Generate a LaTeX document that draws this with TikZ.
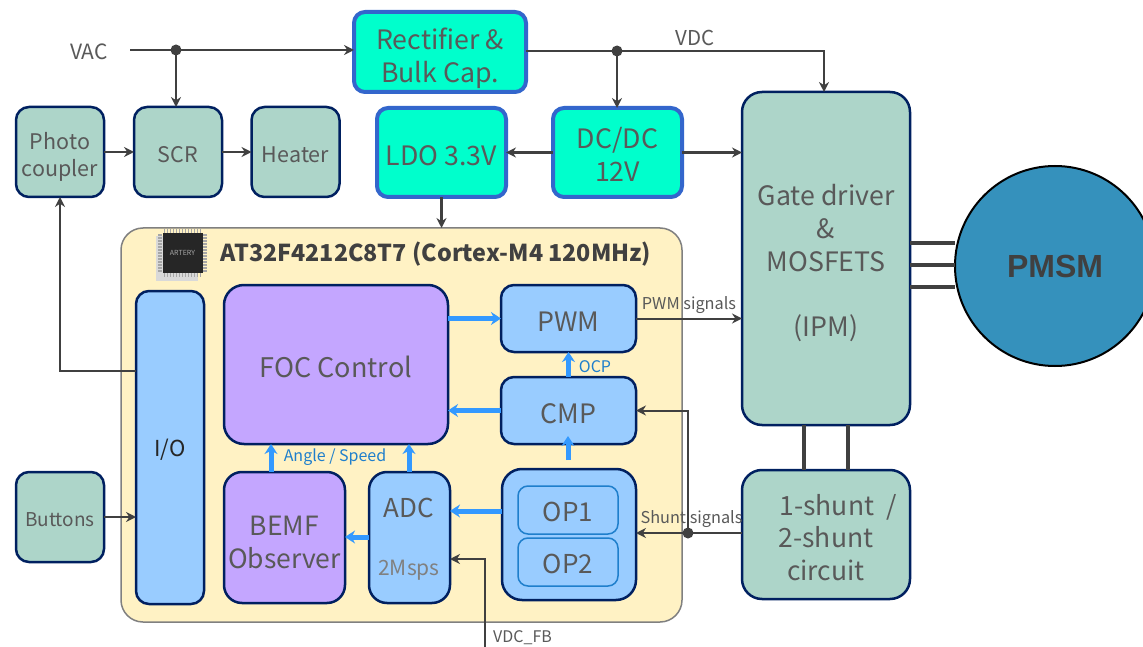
\documentclass[tikz,border=0pt]{standalone}
\usepackage{fontspec}
\setmainfont{Noto Sans CJK SC}
\newfontfamily\motorfont{Liberation Sans}
\usetikzlibrary{arrows.meta}

\definecolor{txtgray}{HTML}{595959}
\definecolor{linegray}{HTML}{404040}
\definecolor{navyline}{HTML}{002060}
\definecolor{powerblue}{HTML}{3366CC}
\definecolor{powerfill}{HTML}{00FFCC}
\definecolor{periphfill}{HTML}{ADD5C9}
\definecolor{mcufill}{HTML}{FFF2C4}
\definecolor{ipfill}{HTML}{99CCFF}
\definecolor{focfill}{HTML}{C4A6FF}
\definecolor{flowblue}{HTML}{3399FF}
\definecolor{labelblue}{HTML}{1F7FCC}
\definecolor{motorfill}{HTML}{3591BC}

\newcommand{\fs}[1]{\fontsize{#1}{\dimexpr#1pt*123/100\relax}\selectfont}

\tikzset{
  block/.style={draw=navyline, line width=2.5pt, rounded corners=13pt, inner sep=0pt,
    outer sep=0pt, text=txtgray, align=center},
  periph/.style={block, fill=periphfill},
  power/.style={block, draw=powerblue, line width=4pt, fill=powerfill, rounded corners=11pt},
  ipblock/.style={block, fill=ipfill},
  algo/.style={block, fill=focfill},
  opamp/.style={block, draw=labelblue, line width=1.5pt, fill=ipfill, rounded corners=10pt},
  sig/.style={-{Stealth[length=10pt,width=10pt]}, line width=2.2pt, draw=linegray},
  thinsig/.style={-{Stealth[length=10pt,width=10pt]}, line width=2pt, draw=linegray},
  flow/.style={-{Stealth[length=10pt,width=13pt]}, line width=5pt, draw=flowblue},
  phase/.style={line width=4.5pt, draw=linegray},
  junction/.style={circle, fill=linegray, minimum size=11pt, inner sep=0pt, outer sep=0pt},
  lbl/.style={text=txtgray, inner sep=0pt},
  txtdown/.style={execute at begin node={\vrule width 0pt height \dimexpr\fontcharht\font`H+#1pt\relax}},
}

\begin{document}
\begin{tikzpicture}[x=1pt, y=-1pt, >=stealth]
    \clip (0,0) rectangle (1143,647);
    % power path
    \node[power, minimum width=172pt, minimum height=80pt, font=\fs{26.7}, txtdown=47] (rect) at (440,52) {Rectifier \&\\Bulk Cap.};
    \node[power, minimum width=129pt, minimum height=89pt, font=\fs{26.7}, txtdown=6] (ldo) at (441.5,152.5) {LDO 3.3V};
    \node[power, minimum width=129pt, minimum height=89pt, font=\fs{26.7}, txtdown=38] (dcdc) at (617.5,152.5) {DC/DC\\12V};
    % heater side
    \node[periph, minimum width=88pt, minimum height=90pt, font=\fs{21.5}, txtdown=38] (photo) at (60,152) {Photo\\coupler};
    \node[periph, minimum width=88pt, minimum height=90pt, font=\fs{21.5}, txtdown=6] (scr) at (178,152) {SCR};
    \node[periph, minimum width=88pt, minimum height=90pt, font=\fs{21.5}, txtdown=6] (heater) at (295.5,152) {Heater};
    \node[periph, minimum width=88pt, minimum height=90pt, font=\fs{19}, txtdown=6] (buttons) at (60,517) {Buttons};
    % MCU
    \node[draw=gray, line width=1.5pt, fill=mcufill, rounded corners=22pt, minimum width=561pt,
      minimum height=394pt, inner sep=0pt, outer sep=0pt] (mcu) at (401.5,425) {};
    \node[lbl, text=linegray, font=\bfseries\fs{23.3}] (mcutitle) at (436,254) {AT32F4212C8T7 (Cortex-M4 120MHz)};
    % chip picture
    \fill[gray!30] (156,236) rectangle (198,281);
    \foreach \i in {0,...,12} {
      \fill[gray!70] (163.5+\i*3,229) rectangle ++(1.6,4);
      \fill[gray!70] (163.5+\i*3,273) rectangle ++(1.6,4);
      \fill[gray!70] (158,234+\i*3) rectangle ++(4,1.6);
      \fill[gray!70] (203,234+\i*3) rectangle ++(4,1.6);
    }
    \node[fill=black!85, minimum size=40pt, inner sep=0pt, text=gray!70, font=\fs{7}] (chip) at (182.5,253) {ARTERY};
    % MCU blocks
    \node[ipblock, minimum width=68pt, minimum height=313pt, text=black!85, font=\fs{22}, txtdown=6] (io) at (170,447.5) {I/O};
    \node[algo, rounded corners=20pt, minimum width=224pt, minimum height=159pt, font=\fs{27}, txtdown=6] (foc) at (336,364.5) {FOC Control};
    \node[ipblock, minimum width=135pt, minimum height=67pt, font=\fs{26.7}, txtdown=6] (pwm) at (568.5,318.5) {PWM};
    \node[ipblock, minimum width=135pt, minimum height=67pt, font=\fs{26.7}, txtdown=6] (cmp) at (568.5,410.5) {CMP};
    \node[ipblock, rounded corners=20pt, minimum width=134pt, minimum height=131pt] (opbox) at (569,534.5) {};
    \node[opamp, minimum width=100pt, minimum height=48pt, font=\fs{26}, txtdown=4] (opa) at (568,510) {OP1};
    \node[opamp, minimum width=100pt, minimum height=48pt, font=\fs{26}, txtdown=4] (opb) at (568,562) {OP2};
    \node[algo, rounded corners=18pt, minimum width=121pt, minimum height=131pt, font=\fs{26.5}, txtdown=42] (bemf) at (284.5,537.5) {BEMF\\Observer};
    \node[ipblock, rounded corners=18pt, minimum width=81pt, minimum height=131pt] (adc) at (409.5,537.5) {};
    \node[lbl, font=\fs{26}] (adctxt) at (409,508) {ADC};
    \node[lbl, text=gray, font=\fs{21}] (adcrate) at (409,570) {2Msps};
    % power stage
    \node[periph, rounded corners=20pt, minimum width=168pt, minimum height=333pt, font=\fs{26.7}, txtdown=141] (gate) at (826,258.5) {Gate driver\\\&\\MOSFETS\\[32pt](IPM)};
    \node[periph, rounded corners=20pt, minimum width=168pt, minimum height=129pt, font=\fs{26.5}, txtdown=73] (shunt) at (826,534.5) {\hspace*{24pt}1-shunt\ \ /\\2-shunt\\circuit};
    \node[circle, draw=black, line width=2pt, fill=motorfill, minimum size=200pt, inner sep=0pt, outer sep=0pt,
      text=linegray, font=\motorfont\bfseries\fs{32}] (pmsm) at (1055,266) {PMSM};
    % labels
    \node[lbl, font=\fs{21}] (vaclbl) at (89,52) {VAC};
    \node[lbl, font=\fs{20.5}] (vdclbl) at (695,38) {VDC};
    \node[lbl, font=\fs{16.3}] (pwmlbl) at (689,305.5) {PWM signals};
    \node[lbl, font=\fs{16.3}] (shuntlbl) at (691.5,519.5) {Shunt signals};
    \node[lbl, font=\fs{16}] (fblbl) at (522.5,638) {VDC\_FB};
    \node[lbl, text=labelblue, font=\fs{16}] (ocplbl) at (595,367) {OCP};
    \node[lbl, text=labelblue, font=\fs{16}] (anglelbl) at (335,457.5) {Angle / Speed};
    % power wiring
    \coordinate (vacin) at (130,50);
    \coordinate (fbin) at (485,647);
    \node[junction] (vacdot) at (176,50) {};
    \node[junction] (vdcdot) at (617,51) {};
    \node[junction] (shuntdot) at (688,533) {};
    \draw[sig] (vacin) -- (rect.west |- vacin);
    \draw[sig] (vacdot) -- (vacdot |- scr.north);
    \draw[sig] (rect.east |- vdcdot) -| (gate.north -| 824,0);
    \draw[sig] (vdcdot) -- (vdcdot |- dcdc.north);
    \draw[sig] (dcdc.west) -- (ldo.east);
    \draw[sig] (dcdc.east) -- (gate.west |- dcdc.east);
    \draw[sig] (ldo.south) -- (ldo.south |- mcu.north);
    % heater wiring
    \draw[sig] (photo.east) -- (scr.west);
    \draw[sig] (scr.east) -- (heater.west);
    \draw[sig] (io.west |- 0,371) -| (photo.south);
    \draw[sig] (buttons.east) -- (io.west |- buttons.east);
    % motor wiring
    \foreach \y in {243,265,287} \draw[phase] (gate.east |- 0,\y) -- (pmsm.west |- 0,\y);
    \foreach \x in {804,848} \draw[phase] (\x,425) -- (\x,470);
    % signals
    \draw[thinsig] (pwm.east) -- (gate.west |- pwm.east);
    \draw[sig] (shunt.west |- shuntdot) -- (opbox.east |- shuntdot);
    \draw[thinsig] (shuntdot) |- (cmp.east);
    \draw[thinsig] (fbin) |- (adc.east |- 0,559);
    % internal flow
    \draw[flow] (foc.east |- pwm.west) -- (pwm.west);
    \draw[flow] (cmp.west) -- (foc.east |- cmp.west);
    \draw[flow] (cmp.north) -- (pwm.south);
    \draw[flow] (568,460) -- (568,436);
    \draw[flow] (opbox.west |- 0,511) -- (adc.east |- 0,511);
    \draw[flow] (adc.west |- 0,537) -- (bemf.east |- 0,537);
    \draw[flow] (271,472) -- (271,444);
    \draw[flow] (409,472) -- (409,444);
\end{tikzpicture}
\end{document}
